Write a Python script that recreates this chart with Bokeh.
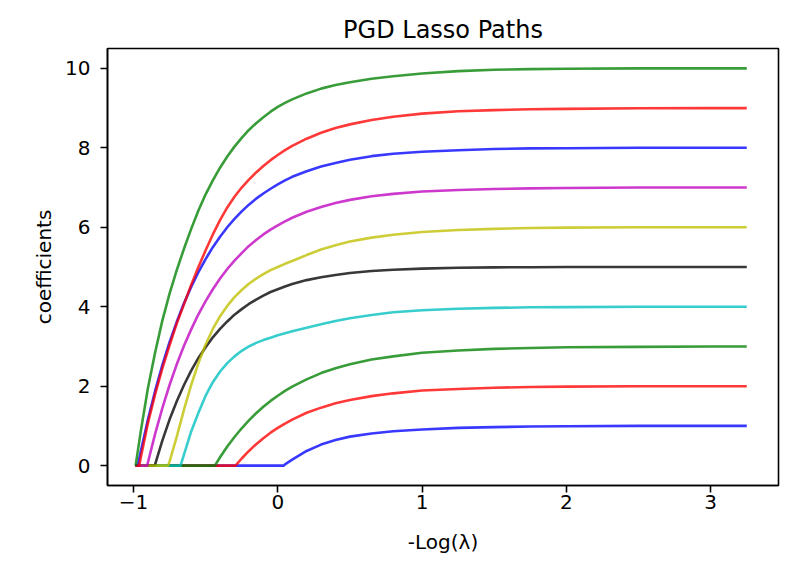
from bokeh.plotting import figure
from bokeh.models import FixedTicker, Range1d
from bokeh.embed import file_html
from bokeh.resources import INLINE

# -Log(lambda) grid
x_grid = [-0.985, -0.95, -0.9, -0.85, -0.8, -0.75, -0.7, -0.65, -0.6, -0.55, -0.5,
          -0.45, -0.4, -0.35, -0.3, -0.25, -0.2, -0.15, -0.1, -0.05, 0.0, 0.05, 0.1,
          0.2, 0.3, 0.4, 0.5, 0.65, 0.8, 1.0, 1.25, 1.5, 1.75, 2.0, 2.5, 3.0, 3.25]

# x where each coefficient leaves zero (coef1 ... coef10)
start_x = [0.04, -0.293, -0.436, -0.674, -0.852, -0.76, -0.905, -0.97, -0.96, -0.985]

coef1 = [0] * 21 + [0.03, 0.15, 0.37, 0.53, 0.645, 0.73, 0.81, 0.865, 0.91, 0.95,
                    0.97, 0.985, 0.99, 1.0, 1.0, 1.0]
coef2 = [0] * 15 + [0.18, 0.37, 0.54, 0.69, 0.83, 0.95, 1.06, 1.16, 1.33, 1.46, 1.57,
                    1.65, 1.75, 1.82, 1.89, 1.93, 1.96, 1.98, 1.99, 2.0, 2.0, 2.0]
coef3 = [0] * 12 + [0.21, 0.48, 0.72, 0.94, 1.14, 1.32, 1.48, 1.63, 1.76, 1.88, 1.99,
                    2.17, 2.33, 2.45, 2.55, 2.67, 2.75, 2.84, 2.9, 2.94, 2.96, 2.98,
                    2.99, 3.0, 3.0]
coef4 = [0] * 7 + [0.28, 0.86, 1.33, 1.76, 2.1, 2.37, 2.58, 2.75, 2.89, 3.0, 3.09,
                   3.16, 3.22, 3.28, 3.33, 3.38, 3.47, 3.56, 3.64, 3.71, 3.79, 3.86,
                   3.91, 3.95, 3.97, 3.985, 3.99, 4.0, 4.0, 4.0]
coef5 = [0, 0, 0, 0.03, 0.63, 1.16, 1.62, 2.03, 2.39, 2.71, 2.98, 3.23, 3.44, 3.63,
         3.8, 3.94, 4.07, 4.18, 4.28, 4.37, 4.44, 4.51, 4.57, 4.67, 4.74, 4.8, 4.85,
         4.9, 4.93, 4.96, 4.98, 4.99, 4.995, 5.0, 5.0, 5.0, 5.0]
coef6 = [0, 0, 0, 0, 0, 0.1, 0.73, 1.41, 2.03, 2.58, 3.05, 3.44, 3.76, 4.02, 4.24,
         4.42, 4.58, 4.71, 4.82, 4.92, 5.0, 5.08, 5.15, 5.3, 5.44, 5.55, 5.64, 5.74,
         5.81, 5.88, 5.93, 5.96, 5.98, 5.99, 6.0, 6.0, 6.0]
coef7 = [0, 0, 0.08, 0.8, 1.45, 2.03, 2.55, 3.02, 3.43, 3.81, 4.14, 4.44, 4.71, 4.95,
         5.16, 5.35, 5.53, 5.68, 5.82, 5.94, 6.05, 6.15, 6.24, 6.39, 6.51, 6.61, 6.69,
         6.78, 6.84, 6.9, 6.94, 6.965, 6.98, 6.99, 7.0, 7.0, 7.0]
coef8 = [0, 0.35, 1.16, 1.88, 2.53, 3.11, 3.62, 4.09, 4.5, 4.87, 5.2, 5.5, 5.76, 6.0,
         6.21, 6.4, 6.57, 6.72, 6.85, 6.97, 7.08, 7.18, 7.27, 7.41, 7.53, 7.62, 7.7,
         7.79, 7.85, 7.9, 7.94, 7.97, 7.985, 7.99, 8.0, 8.0, 8.0]
coef9 = [0, 0.19, 1.07, 1.8, 2.45, 3.03, 3.58, 4.06, 4.55, 5.0, 5.42, 5.82, 6.18, 6.5,
         6.77, 7.0, 7.2, 7.38, 7.54, 7.69, 7.82, 7.94, 8.05, 8.23, 8.38, 8.5, 8.59,
         8.7, 8.78, 8.86, 8.92, 8.95, 8.97, 8.98, 8.995, 9.0, 9.0]
coef10 = [0, 0.85, 1.95, 2.85, 3.65, 4.33, 4.92, 5.46, 5.96, 6.42, 6.83, 7.18, 7.5,
          7.78, 8.03, 8.25, 8.45, 8.62, 8.77, 8.91, 9.03, 9.13, 9.22, 9.37, 9.49,
          9.58, 9.65, 9.74, 9.8, 9.87, 9.93, 9.965, 9.98, 9.99, 10.0, 10.0, 10.0]

series = [coef1, coef2, coef3, coef4, coef5, coef6, coef7, coef8, coef9, coef10]
colors = ["#0000ff", "#ff0000", "#008000", "#00bfbf", "#000000",
          "#bfbf00", "#bf00bf", "#0000ff", "#ff0000", "#008000"]

x_ticks = [-1, 0, 1, 2, 3]
x_tick_labels = ["\u22121", "0", "1", "2", "3"]
y_ticks = [0, 2, 4, 6, 8, 10]

FONT = "DejaVu Sans"

p = figure(width=780, height=557, output_backend="svg", toolbar_location=None,
           x_range=Range1d(-1.18, 3.47), y_range=Range1d(-0.5, 10.5),
           min_border_left=107, min_border_right=2, min_border_top=48,
           min_border_bottom=72, title="PGD Lasso Paths")

p.title.align = "center"
p.title.text_font = FONT
p.title.text_font_size = "24px"
p.title.text_font_style = "normal"
p.title.text_color = "black"

p.grid.visible = False
p.outline_line_color = "black"
p.outline_line_width = 1.6
p.outline_line_alpha = 1.0
p.background_fill_color = "white"
p.border_fill_color = "white"


def path(start, vals):
    xs, ys = [], []
    for x, v in zip(x_grid, vals):
        if x < start:
            xs.append(x)
            ys.append(0.0)
    xs.append(start)
    ys.append(0.0)
    for x, v in zip(x_grid, vals):
        if x > start:
            xs.append(x)
            ys.append(v)
    return xs, ys


for s, vals, c in zip(start_x, series, colors):
    xs, ys = path(s, vals)
    p.line(xs, ys, line_color=c, line_alpha=0.78, line_width=2.6,
           line_join="round")

p.xaxis.ticker = FixedTicker(ticks=x_ticks)
p.xaxis.major_label_overrides = {t: l for t, l in zip(x_ticks, x_tick_labels)}
p.yaxis.ticker = FixedTicker(ticks=y_ticks)
p.xaxis.axis_label = "-Log(λ)"
p.yaxis.axis_label = "coefficients"

for ax in (p.xaxis[0], p.yaxis[0]):
    ax.axis_line_color = "black"
    ax.axis_line_width = 1.6
    ax.major_tick_line_color = "black"
    ax.major_tick_line_width = 1.6
    ax.major_tick_out = 7
    ax.major_tick_in = 0
    ax.minor_tick_out = 0
    ax.minor_tick_in = 0
    ax.major_label_text_font = FONT
    ax.major_label_text_font_size = "20px"
    ax.major_label_text_color = "black"
    ax.axis_label_text_font = FONT
    ax.axis_label_text_font_size = "20px"
    ax.axis_label_text_font_style = "normal"
    ax.axis_label_text_color = "black"

p.xaxis.major_label_standoff = 2
p.yaxis.major_label_standoff = 10
p.xaxis.axis_label_standoff = 18
p.yaxis.axis_label_standoff = 6

open("out.html", "w").write(file_html(p, INLINE))
